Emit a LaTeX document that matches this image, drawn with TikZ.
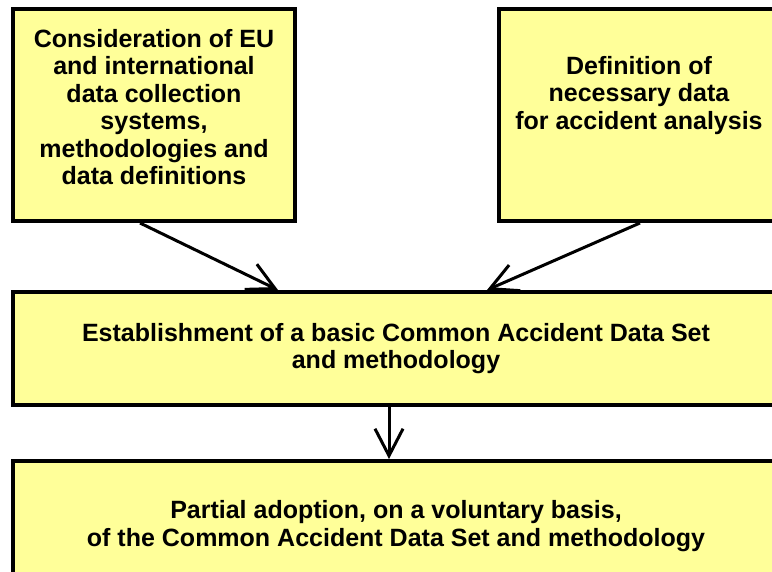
\documentclass[tikz,border=0pt]{standalone}
\usepackage{fontspec}
\setmainfont{Liberation Sans}
\usetikzlibrary{arrows.meta}
\definecolor{boxyellow}{HTML}{FFFF99}

\begin{document}
\begin{tikzpicture}[x=1pt,y=-1pt]
            \tikzstyle{box}=[draw=black,fill=boxyellow,line width=4pt,align=center,inner sep=0pt,font=\fontsize{25}{27.5}\selectfont\bfseries]
            \tikzstyle{flow}=[black,line width=3pt,-{Straight Barb[length=27pt,width=28pt]}]
            \clip (0,0) rectangle (772,572);
            \fill [white] (0,0) rectangle (772,572);
            \node [box,minimum width=282pt,minimum height=212pt,text depth=16pt] (eu) at (154,115) {Consideration of EU\\and international\\data collection\\systems,\\methodologies and\\data definitions};
            \node [box,minimum width=280pt,minimum height=212pt,text depth=45pt] (need) at (639,115) {Definition of\\necessary data\\for accident analysis};
            \node [box,minimum width=766pt,minimum height=113pt] (cads) at (396,348.5) {Establishment of a basic Common Accident Data Set\\and methodology};
            \node [box,minimum width=766pt,minimum height=130pt] (adopt) at (396,526) {Partial adoption, on a voluntary basis,\\of the Common Accident Data Set and methodology};
            \draw [flow] ([xshift=129pt]eu.south west) -- ([xshift=267pt]cads.north west);
            \draw [flow] ([xshift=143pt]need.south west) -- ([xshift=476pt]cads.north west);
            \draw [flow] ([xshift=-7pt]cads.south) -- ([xshift=-7pt]adopt.north);
          \end{tikzpicture}
\end{document}
